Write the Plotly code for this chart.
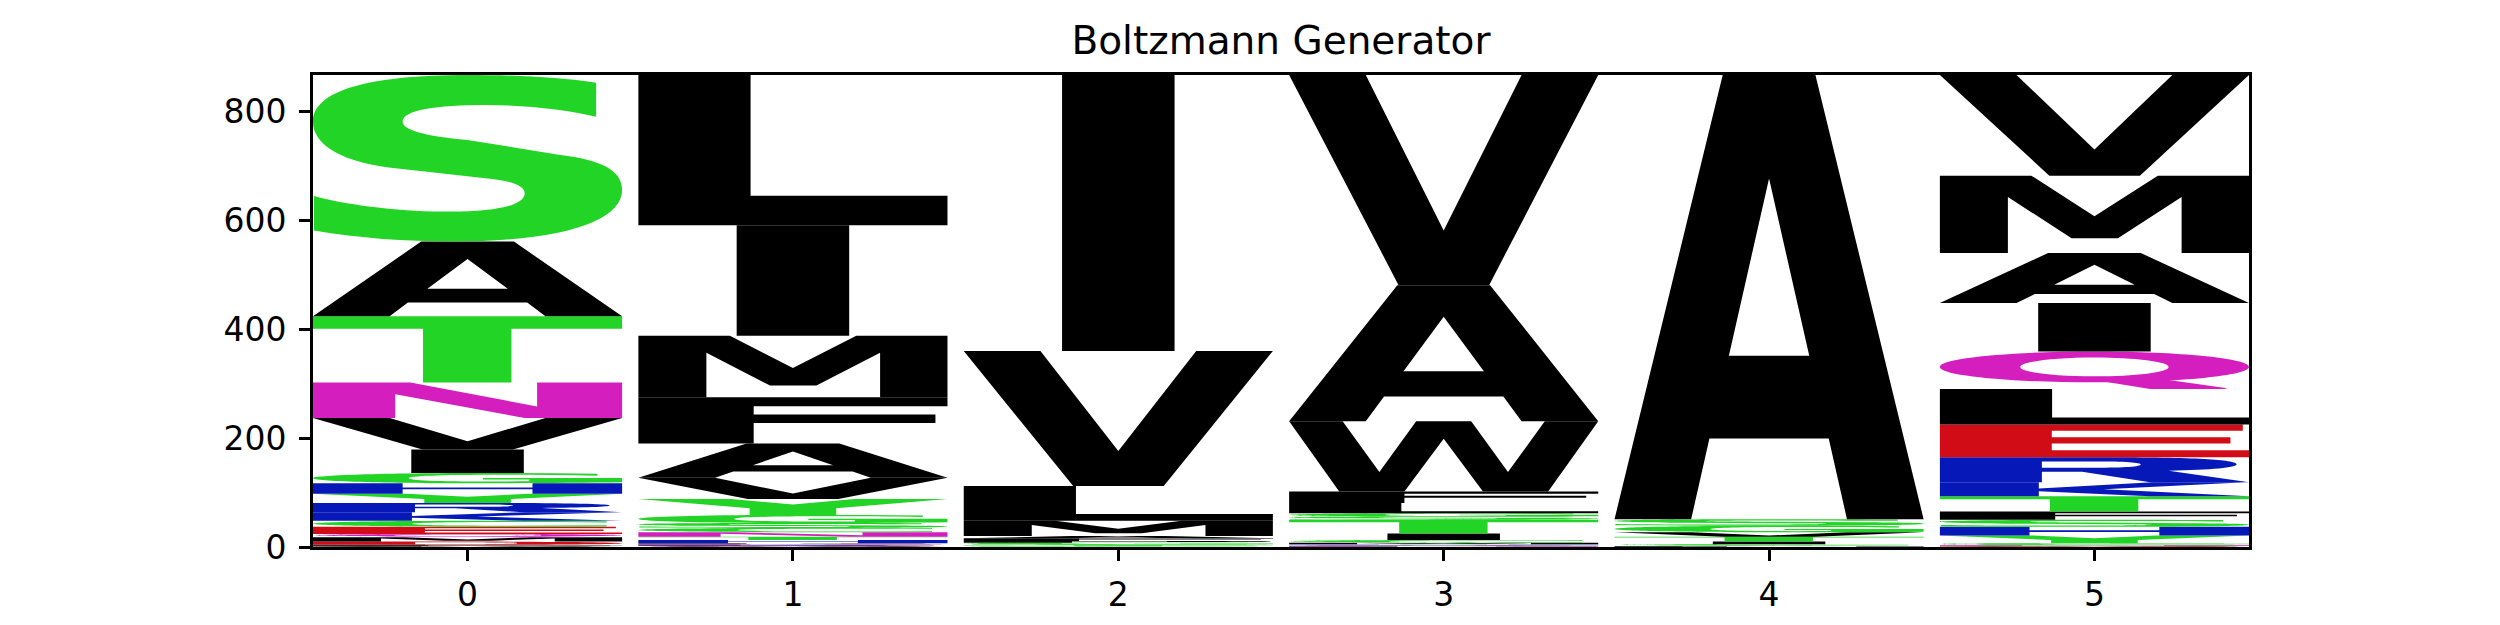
import plotly.graph_objects as go

# ---------------- data (counts per position, stacked bottom -> top) ----------------
positions = [0, 1, 2, 3, 4, 5]

letters_0 = ["W", "P", "F", "L", "D", "M", "Q", "E", "C", "K", "R", "Y", "H", "G", "I", "V", "N", "T", "A", "S"]
counts_0 = [1, 1, 1, 1, 6, 8, 6, 13, 11, 16, 17, 17, 19, 19, 43, 58, 65, 122, 137, 306]

letters_1 = ["Q", "W", "R", "K", "E", "D", "P", "H", "T", "N", "C", "S", "G", "Y", "V", "A", "F", "M", "I", "L"]
counts_1 = [1, 1, 1, 1, 1, 1, 1, 6, 6, 8, 8, 9, 15, 29, 39, 63, 85, 113, 203, 276]

letters_2 = ["W", "R", "K", "E", "D", "H", "N", "Q", "C", "Y", "T", "S", "G", "P", "F", "A", "M", "L", "V", "I"]
counts_2 = [0, 0, 0, 0, 0, 0, 0, 0, 1, 1, 1, 2, 3, 3, 5, 4, 28, 64, 248, 507]

letters_3 = ["D", "E", "R", "K", "P", "N", "Q", "H", "Y", "M", "C", "I", "T", "S", "G", "L", "F", "W", "A", "V"]
counts_3 = [0, 0, 0, 0, 1, 1, 1, 1, 1, 3, 5, 12, 25, 6, 6, 19, 21, 129, 250, 386]

letters_4 = ["D", "E", "R", "K", "H", "N", "Q", "P", "W", "F", "L", "M", "Y", "C", "I", "T", "V", "G", "S", "A"]
counts_4 = [0, 0, 0, 0, 0, 0, 0, 0, 0, 0, 1, 1, 1, 2, 5, 9, 8, 12, 12, 816]

letters_5 = ["P", "W", "D", "N", "C", "G", "Y", "H", "S", "F", "T", "K", "R", "E", "L", "Q", "I", "A", "M", "V"]
counts_5 = [0, 1, 1, 1, 2, 2, 14, 16, 13, 15, 28, 26, 46, 60, 65, 69, 89, 92, 142, 185]

tick_labels = ["0", "1", "2", "3", "4", "5"]
y_ticks = [0, 200, 400, 600, 800]
title_text = "Boltzmann Generator"

stack_letters = [letters_0, letters_1, letters_2, letters_3, letters_4, letters_5]
stack_counts = [counts_0, counts_1, counts_2, counts_3, counts_4, counts_5]

# ---------------- style: colour scheme and glyph outlines (unit box) ----------------
GREEN, PURPLE, BLUE, RED, BLACK = "#22d426", "#d41ebe", "#0619b8", "#d20c16", "#000000"
COLORS = {}
for ch in "GSTYC":
    COLORS[ch] = GREEN
for ch in "NQ":
    COLORS[ch] = PURPLE
for ch in "KRH":
    COLORS[ch] = BLUE
for ch in "DE":
    COLORS[ch] = RED
for ch in "AVLIPWFM":
    COLORS[ch] = BLACK


def ellipse(cx, cy, rx, ry):
    k = 0.5523
    return (f"M {cx+rx},{cy} C {cx+rx},{cy+k*ry} {cx+k*rx},{cy+ry} {cx},{cy+ry} "
            f"C {cx-k*rx},{cy+ry} {cx-rx},{cy+k*ry} {cx-rx},{cy} "
            f"C {cx-rx},{cy-k*ry} {cx-k*rx},{cy-ry} {cx},{cy-ry} "
            f"C {cx+k*rx},{cy-ry} {cx+rx},{cy-k*ry} {cx+rx},{cy} Z")


GLYPHS = {
    "A": ["M 0,0 L 0.35,1 L 0.65,1 L 1,0 L 0.752,0 L 0.693,0.182 L 0.307,0.182 L 0.248,0 Z "
          "M 0.5,0.767 L 0.63,0.368 L 0.37,0.368 Z"],
    "C": ["M 0.95,0.93 C 0.82,0.99 0.68,1 0.56,1 C 0.22,1 0,0.78 0,0.5 C 0,0.22 0.22,0 0.56,0 "
          "C 0.68,0 0.82,0.01 0.95,0.07 L 0.95,0.26 C 0.84,0.2 0.73,0.18 0.62,0.18 "
          "C 0.42,0.18 0.32,0.3 0.32,0.5 C 0.32,0.7 0.42,0.82 0.62,0.82 C 0.73,0.82 0.84,0.8 0.95,0.74 Z"],
    "D": ["M 0,0 L 0,1 L 0.45,1 C 0.8,1 1,0.8 1,0.5 C 1,0.2 0.8,0 0.45,0 Z "
          "M 0.33,0.18 L 0.33,0.82 L 0.43,0.82 C 0.6,0.82 0.66,0.7 0.66,0.5 C 0.66,0.3 0.6,0.18 0.43,0.18 Z"],
    "E": ["M 0,0 L 1,0 L 1,0.21 L 0.362,0.21 L 0.362,0.42 L 0.94,0.42 L 0.94,0.61 L 0.362,0.61 "
          "L 0.362,0.81 L 0.98,0.81 L 0.98,1 L 0,1 Z"],
    "F": ["M 0,0 L 0,1 L 1,1 L 1,0.806 L 0.373,0.806 L 0.373,0.626 L 0.961,0.626 L 0.961,0.446 "
          "L 0.373,0.446 L 0.373,0 Z"],
    "G": ["M 0.92,0.93 C 0.8,0.99 0.68,1 0.56,1 C 0.22,1 0,0.78 0,0.5 C 0,0.22 0.22,0 0.56,0 "
          "C 0.72,0 0.87,0.03 1,0.09 L 1,0.52 L 0.55,0.52 L 0.55,0.36 L 0.7,0.36 L 0.7,0.2 "
          "C 0.66,0.185 0.62,0.18 0.58,0.18 C 0.4,0.18 0.31,0.3 0.31,0.5 C 0.31,0.7 0.41,0.82 0.6,0.82 "
          "C 0.71,0.82 0.82,0.79 0.92,0.73 Z"],
    "H": ["M 0,0 L 0,1 L 0.29,1 L 0.29,0.6 L 0.71,0.6 L 0.71,1 L 1,1 L 1,0 L 0.71,0 L 0.71,0.42 "
          "L 0.29,0.42 L 0.29,0 Z"],
    "I": ["M 0.318,0 L 0.318,1 L 0.682,1 L 0.682,0 Z"],
    "K": ["M 0,0 L 0,1 L 0.32,1 L 0.32,0.56 L 0.69,1 L 0.99,1 L 0.53,0.5 L 1,0 L 0.68,0 "
          "L 0.32,0.36 L 0.32,0 Z"],
    "L": ["M 0,0 L 1,0 L 1,0.197 L 0.363,0.197 L 0.363,1 L 0,1 Z"],
    "M": ["M 0,0 L 0,1 L 0.296,1 L 0.5,0.475 L 0.705,1 L 1,1 L 1,0 L 0.782,0 L 0.782,0.726 "
          "L 0.576,0.19 L 0.426,0.19 L 0.22,0.726 L 0.22,0 Z"],
    "N": ["M 0,0 L 0,1 L 0.315,1 L 0.725,0.327 L 0.725,1 L 1,1 L 1,0 L 0.685,0 L 0.266,0.673 "
          "L 0.266,0 Z"],
    "P": ["M 0,0 L 0,1 L 0.55,1 C 0.85,1 1,0.87 1,0.66 C 1,0.45 0.85,0.32 0.55,0.32 L 0.35,0.32 "
          "L 0.35,0 Z M 0.35,0.5 L 0.52,0.5 C 0.62,0.5 0.67,0.56 0.67,0.66 C 0.67,0.76 0.62,0.82 0.52,0.82 "
          "L 0.35,0.82 Z"],
    "Q": [ellipse(0.5, 0.59, 0.5, 0.41) + " " + ellipse(0.5, 0.59, 0.24, 0.25),
          "M 0.5,0.24 L 0.74,0.24 L 0.93,0.02 L 0.92,0 L 0.68,0 Z"],
    "R": ["M 0,0 L 0,1 L 0.55,1 C 0.85,1 0.96,0.88 0.96,0.72 C 0.96,0.58 0.88,0.5 0.74,0.46 "
          "L 1,0 L 0.68,0 L 0.46,0.42 L 0.33,0.42 L 0.33,0 Z M 0.33,0.58 L 0.5,0.58 "
          "C 0.6,0.58 0.65,0.63 0.65,0.71 C 0.65,0.79 0.6,0.83 0.5,0.83 L 0.33,0.83 Z"],
    "S": ["M 0.916,0.954 C 0.8,0.985 0.66,1 0.5,1 C 0.17,1 0,0.9 0,0.72 C 0,0.6 0.07,0.49 0.245,0.445 "
          "L 0.58,0.375 C 0.65,0.36 0.685,0.33 0.685,0.29 C 0.685,0.22 0.6,0.18 0.44,0.18 "
          "C 0.3,0.18 0.13,0.21 0.003,0.274 L 0.003,0.066 C 0.15,0.02 0.3,0 0.45,0 "
          "C 0.8,0 1,0.12 1,0.31 C 1,0.43 0.93,0.49 0.8,0.52 L 0.5,0.61 "
          "C 0.36,0.635 0.29,0.67 0.29,0.72 C 0.29,0.79 0.4,0.82 0.56,0.82 "
          "C 0.7,0.82 0.82,0.79 0.916,0.75 Z"],
    "T": ["M 0,1 L 1,1 L 1,0.81 L 0.642,0.81 L 0.642,0 L 0.356,0 L 0.356,0.81 L 0,0.81 Z"],
    "V": ["M 0,1 L 0.248,1 L 0.5,0.26 L 0.752,1 L 1,1 L 0.647,0 L 0.354,0 Z"],
    "W": ["M 0,1 L 0.173,1 L 0.292,0.276 L 0.411,1 L 0.589,1 L 0.708,0.276 L 0.827,1 L 1,1 "
          "L 0.838,0 L 0.627,0 L 0.5,0.752 L 0.373,0 L 0.162,0 Z"],
    "Y": ["M 0,1 L 0.3,1 L 0.5,0.66 L 0.7,1 L 1,1 L 0.64,0.42 L 0.64,0 L 0.36,0 L 0.36,0.42 Z"],
}

LETTER_WIDTH = 0.95


def place(path, x0, w, y0, h):
    out = []
    for tok in path.split():
        if "," in tok:
            a, b = tok.split(",")
            out.append(f"{x0 + float(a) * w:.6f},{y0 + float(b) * h:.6f}")
        else:
            out.append(tok)
    return " ".join(out)


shapes = []
totals = []
for pos, letters, counts in zip(positions, stack_letters, stack_counts):
    base = 0.0
    for ch, c in zip(letters, counts):
        if c > 0:
            for part in GLYPHS[ch]:
                shapes.append(dict(
                    type="path", xref="x", yref="y",
                    path=place(part, pos - LETTER_WIDTH / 2, LETTER_WIDTH, base, c),
                    fillcolor=COLORS[ch], line=dict(width=0), fillrule="evenodd",
                    layer="above",
                ))
        base += c
    totals.append(base)

y_max = max(totals)

fig = go.Figure()
fig.add_trace(go.Scatter(x=[], y=[], mode="markers", showlegend=False, hoverinfo="skip"))

axis_common = dict(
    showline=True, mirror=True, linecolor="black", linewidth=2.6,
    ticks="outside", ticklen=11, tickwidth=2.6, tickcolor="black",
    showgrid=False, zeroline=False,
    tickfont=dict(family="DejaVu Sans", size=33, color="black"),
)

# the page body adds an 8 px offset, so margins are shifted by that amount
fig.update_layout(
    width=2500, height=625,
    margin=dict(l=305, r=259, t=67, b=86),
    paper_bgcolor="white", plot_bgcolor="white",
    shapes=shapes,
    title=dict(text=title_text, x=0.5, xref="paper", xanchor="center",
               y=1 - 32 / 625, yref="container", yanchor="middle",
               font=dict(family="DejaVu Sans", size=39, color="black")),
    xaxis=dict(range=[positions[0] - LETTER_WIDTH / 2, positions[-1] + LETTER_WIDTH / 2],
               tickvals=positions, ticktext=tick_labels, ticklabelstandoff=6, **axis_common),
    yaxis=dict(range=[0, y_max], tickvals=y_ticks, ticklabelstandoff=6, **axis_common),
    showlegend=False,
)

fig.write_html("out.html")
